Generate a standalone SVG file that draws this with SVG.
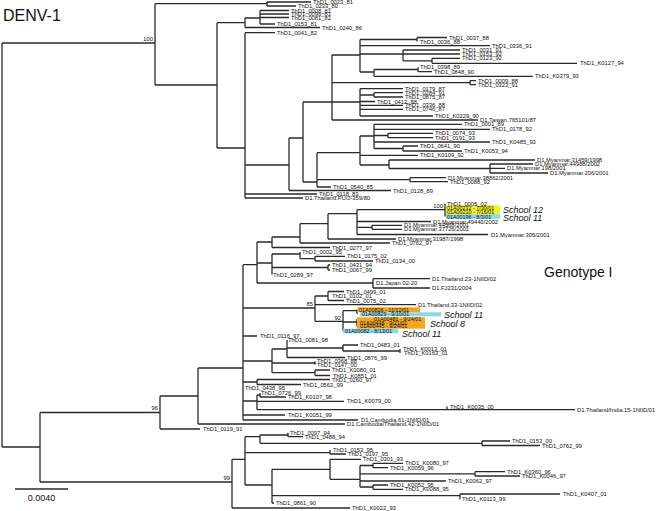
<svg xmlns="http://www.w3.org/2000/svg" width="664" height="511" viewBox="0 0 664 511">
<style>
.e path{fill:none;stroke:#2a2a2a;stroke-width:1.3}
text{font-family:"Liberation Sans",Arial,sans-serif;fill:#111;font-size:5.8px}
.bs{text-anchor:end}
.hl{font-size:5.4px}
.sc{font-style:italic;font-size:9px}
.y{fill:#f2f224}.o{fill:#f5a81e}.c{fill:#8fd6e6}
</style>
<rect width="664" height="511" fill="#fff"/>
<g id="title"><text x="3" y="21" style="font-size:16px">DENV-1</text></g>
<g id="genotype"><text x="544" y="277" style="font-size:14px">Genotype I</text></g>
<g id="scalebar"><path d="M15 489H68" stroke="#2a2a2a" stroke-width="1.3"/><text x="41.5" y="501" text-anchor="middle" style="font-size:9px">0.0040</text></g>
<g id="connectors" class="e">
<path d="M2 43V447M2 43H155M2 447H40"/>
<path d="M155 3.7V85M155 3.7H267M155 85H217"/>
<path d="M267 2V6M267 2H311M267 6H296"/>
<path d="M217 22.7V148M217 22.7H245M217 148H245"/>
<path d="M245 18V27.5M245 18H260M245 27.5H320"/>
<path d="M260 10.5V24M260 10.5H289M260 14H289M260 17.5H289M260 24H275"/>
<path d="M245 32.7V198M245 32.7H275M245 165H289M245 194H317M245 198H303"/>
<path d="M289 138V190.5M289 138H303M289 190.5H391"/>
<path d="M303 102V182M303 102H332M303 182H317"/>
<path d="M332 55V120M332 55H360M332 82.7H470M332 102H360M332 120H478"/>
<path d="M360 39.5V72M360 39.5H417M360 45.7H490M360 54H403M360 72H374"/>
<path d="M417 37.5V41.5M417 37.5H447"/>
<path d="M403 50V60.8M403 50H460M403 54H460M403 60.8H432"/>
<path d="M432 58.3V63.3M432 58.3H460M432 63.3H577"/>
<path d="M374 69.5V76.3M374 69.5H418M374 76.3H533"/>
<path d="M418 67.3V71.7M418 71.7H432"/>
<path d="M470 80.7V84.7M470 80.7H476M470 84.7H476"/>
<path d="M360 88.7V116M360 88.7H403M360 95H374M360 101.5H375M360 105.3H403M360 109.3H403M360 116H433"/>
<path d="M374 92.7V97M374 92.7H403M374 97H403"/>
<path d="M317 152.7V187M317 152.7H360M317 179.7H410M317 187H331"/>
<path d="M410 177.7V181.7M410 177.7H446M410 181.7H448"/>
<path d="M360 136V165M360 136H374M360 155.3H418M360 165H389"/>
<path d="M374 124.3V148.5M374 124.3H462M374 129.3H490M374 135.5H388M374 142H490M374 148.5H403"/>
<path d="M388 133.3V137.7M388 133.3H433M388 137.7H433"/>
<path d="M403 146V151M403 146H418M403 151H462"/>
<path d="M389 160V168.5M389 160H535M389 168.5H490"/>
<path d="M490 164V173M490 164H533M490 168.3H505M490 173H548"/>
<path d="M40 412.5V482M40 412.5H160M40 482H232"/>
<path d="M160 396V429M160 396H198M160 429H200"/>
<path d="M198 368V424M198 368H243M198 424H345"/>
<path d="M243 264.7V420M243 264.7H257M243 308H315M243 336H257M243 361H272M243 382H257M243 401H257M243 415H285M243 420H358"/>
<path d="M257 242V283M257 242H272M257 263H272M257 283H373"/>
<path d="M272 237V247.5M272 237H300M272 247.5H330"/>
<path d="M300 223.7V243M300 223.7H328M300 243H390"/>
<path d="M328 213.7V239M328 213.7H357M328 239H396"/>
<path d="M357 209.7V234.5M357 209.7H445M357 221.5H431M357 227.3H372M357 234.5H488"/>
<path d="M372 225.3V229.3M372 225.3H402M372 229.3H402"/>
<path d="M445 203.7V216.5"/>
<path d="M272 254V274.5M272 254H300M272 267.5H328"/>
<path d="M300 252V258.6M300 258.6H315"/>
<path d="M315 256.3V261M315 256.3H345M315 261H373"/>
<path d="M328 265V270M328 265H330M328 270H330"/>
<path d="M373 278.7V288M373 278.7H430M373 288H430"/>
<path d="M315 296V321.3M315 296H328M315 304.7H416M315 321.3H343"/>
<path d="M328 291.5V300.5M328 291.5H344M328 300.5H344"/>
<path d="M343 310.7V331M343 310.7H357M343 322H357"/>
<path d="M357 309.5V314M357 319V326.5"/>
<path d="M272 349V372.7M272 349H287M272 363H315M272 372.7H315"/>
<path d="M287 340V357.5M287 348H343M287 357.5H345"/>
<path d="M343 345V351M343 345H358M343 351H400"/>
<path d="M400 349V353M315 361.3V364.7"/>
<path d="M315 370V375.5M315 370H330M315 375.5H330"/>
<path d="M257 379.5V384.5M257 379.5H330M257 384.5H301"/>
<path d="M257 395V409.7M257 395H260M257 401.3H344M257 409.7H575"/>
<path d="M260 393V397M260 397H286"/>
<path d="M447 406.5V409.7"/>
<path d="M232 459.3V508M232 459.3H245M232 508H350"/>
<path d="M245 436.7V485M245 436.7H260M245 452.7H330M245 485H272"/>
<path d="M260 435V443.3M260 435H288M260 443.3H482"/>
<path d="M288 432.7V436.7M288 436.7H303"/>
<path d="M482 441V445.5M482 441H510M482 445.5H540"/>
<path d="M330 450V454M330 454H346"/>
<path d="M272 469.3V503M272 469.3H330M272 495.7H460M272 503H274"/>
<path d="M330 459.3V479.3M330 459.3H361M330 479.3H360"/>
<path d="M360 465.5V487M360 465.5H373M360 473.8H475M360 481H446M360 487H373"/>
<path d="M373 463.3V467.7M373 463.3H403M373 467.7H388"/>
<path d="M475 471.7V476M475 471.7H505M475 476H520"/>
<path d="M373 485V489.3M373 485H388M373 489.3H403"/>
<path d="M460 494V499.3M460 494H560"/>
</g>
<g id="bootstrap">
<text class="bs" x="153" y="41">100</text>
<text class="bs" x="443" y="208">100</text>
<text class="bs" x="313" y="306">85</text>
<text class="bs" x="341" y="320">92</text>
<text class="bs" x="158" y="410">96</text>
<text class="bs" x="230" y="480">99</text>
</g>
<g id="highlights">
<rect class="y" x="446" y="205.3" width="54" height="9"/>
<rect class="c" x="446" y="214.3" width="54" height="4.4"/>
<rect class="o" x="357.5" y="307.3" width="62.5" height="5"/>
<rect class="c" x="360" y="312.3" width="81" height="4"/>
<rect class="o" x="357" y="317.3" width="68" height="11.4"/>
<rect class="c" x="343" y="328.7" width="55" height="4.6"/>
</g>
<g id="schools">
<text class="sc" x="503" y="213">School 12</text>
<text class="sc" x="503" y="221">School 11</text>
<text class="sc" x="444" y="318">School 11</text>
<text class="sc" x="430" y="327">School 8</text>
<text class="sc" x="402" y="337">School 11</text>
</g>
<g id="n1"><text x="313" y="4">ThD1_0023_81</text></g>
<g id="n2"><text x="298" y="8">ThD1_0233_80</text></g>
<g id="n3"><text x="291" y="12.5">ThD1_0008_81</text></g>
<g id="n4"><text x="291" y="16">ThD1_0096_81</text></g>
<g id="n5"><text x="291" y="19.5">ThD1_0081_82</text></g>
<g id="n6"><text x="277" y="26">ThD1_0153_81</text></g>
<g id="n7"><text x="322" y="29.5">ThD1_0240_86</text></g>
<g id="n8"><text x="277" y="34.7">ThD1_0041_82</text></g>
<g id="n9"><text x="449" y="39.5">ThD1_0037_88</text></g>
<g id="n10"><text x="420" y="43.5">ThD1_0036_88</text></g>
<g id="n11"><text x="492" y="47.7">ThD1_0336_91</text></g>
<g id="n12"><text x="462" y="52">ThD1_0031_91</text></g>
<g id="n13"><text x="462" y="56">ThD1_0153_92</text></g>
<g id="n14"><text x="462" y="60.3">ThD1_0123_92</text></g>
<g id="n15"><text x="580" y="65.3">ThD1_K0127_94</text></g>
<g id="n16"><text x="420" y="69.3">ThD1_0398_89</text></g>
<g id="n17"><text x="434" y="73.7">ThD1_0848_90</text></g>
<g id="n18"><text x="535" y="78.3">ThD1_K0379_93</text></g>
<g id="n19"><text x="478" y="82.7">ThD1_0009_88</text></g>
<g id="n20"><text x="478" y="86.7">ThD1_0323_91</text></g>
<g id="n21"><text x="405" y="90.7">ThD1_0179_87</text></g>
<g id="n22"><text x="405" y="94.7">ThD1_0284_91</text></g>
<g id="n23"><text x="405" y="99">ThD1_0875_87</text></g>
<g id="n24"><text x="377" y="103.5">ThD1_0412_88</text></g>
<g id="n25"><text x="405" y="107.3">ThD1_0336_88</text></g>
<g id="n26"><text x="405" y="111.3">ThD1_0746_87</text></g>
<g id="n27"><text x="435" y="118">ThD1_K0229_90</text></g>
<g id="n28"><text x="480" y="122">D1.Taiwan.765101/87</text></g>
<g id="n29"><text x="464" y="126.3">ThD1_0001_89</text></g>
<g id="n30"><text x="492" y="131.3">ThD1_0178_92</text></g>
<g id="n31"><text x="435" y="135.3">ThD1_0074_93</text></g>
<g id="n32"><text x="435" y="139.7">ThD1_0191_93</text></g>
<g id="n33"><text x="492" y="144">ThD1_K0485_93</text></g>
<g id="n34"><text x="420" y="148">ThD1_0641_90</text></g>
<g id="n35"><text x="464" y="153">ThD1_K0053_94</text></g>
<g id="n36"><text x="420" y="157.3">ThD1_K0109_92</text></g>
<g id="n37"><text x="537" y="162">D1.Myanmar.31459/1998</text></g>
<g id="n38"><text x="535" y="166">D1.Myanmar.44988/2002</text></g>
<g id="n39"><text x="507" y="170.3">D1.Myanmar.198/2001</text></g>
<g id="n40"><text x="550" y="175">D1.Myanmar.206/2001</text></g>
<g id="n41"><text x="448" y="179.7">D1.Myanmar.38862/2001</text></g>
<g id="n42"><text x="450" y="183.7">ThD1_0088_92</text></g>
<g id="n43"><text x="333" y="189">ThD1_0540_85</text></g>
<g id="n44"><text x="393" y="192.5">ThD1_0128_89</text></g>
<g id="n45"><text x="319" y="196">ThD1_0118_83</text></g>
<g id="n46"><text x="305" y="200">D1.Thailand.PUO-359/80</text></g>
<g id="n47"><text x="447" y="205.7">ThD1_0005_02</text></g>
<g id="n48"><text class="hl" x="447" y="209.5">01A00232 - 7/30/01</text></g>
<g id="n49"><text class="hl" x="447" y="213.8">01A00210 - 7/16/01</text></g>
<g id="n50"><text class="hl" x="447" y="218.5">01A00196 - 8/3/01</text></g>
<g id="n51"><text x="433" y="223.5">D1.Myanmar.49440/2002</text></g>
<g id="n52"><text x="404" y="227.3">D1.Myanmar.44568/2001</text></g>
<g id="n53"><text x="404" y="231.3">D1.Myanmar.37726/2001</text></g>
<g id="n54"><text x="491" y="236.5">D1.Myanmar.305/2001</text></g>
<g id="n55"><text x="398" y="241">D1.Myanmar.31987/1998</text></g>
<g id="n56"><text x="392" y="245">ThD1_0762_97</text></g>
<g id="n57"><text x="332" y="249.5">ThD1_0277_97</text></g>
<g id="n58"><text x="302" y="254">ThD1_0002_95</text></g>
<g id="n59"><text x="347" y="258.3">ThD1_0175_02</text></g>
<g id="n60"><text x="375" y="263">ThD1_0134_00</text></g>
<g id="n61"><text x="332" y="267">ThD1_0431_94</text></g>
<g id="n62"><text x="332" y="272">ThD1_0067_99</text></g>
<g id="n63"><text x="273" y="276.5">ThD1_0289_97</text></g>
<g id="n64"><text x="432" y="280.7">D1.Thailand.23-1NIID/02</text></g>
<g id="n65"><text x="376" y="285">D1.Japan.02-20</text></g>
<g id="n66"><text x="432" y="290">D1.FJ231/2004</text></g>
<g id="n67"><text x="346" y="293.5">ThD1_0499_01</text></g>
<g id="n68"><text x="332" y="298">ThD1_0102_01</text></g>
<g id="n69"><text x="346" y="302.5">ThD1_0075_02</text></g>
<g id="n70"><text x="418" y="306.7">D1.Thailand.33-1NIID/02</text></g>
<g id="n71"><text class="hl" x="359" y="311.5">01A00826 - 11/12/01</text></g>
<g id="n72"><text class="hl" x="362" y="316">01A00829 - 9/10/01</text></g>
<g id="n73"><text class="hl" x="374" y="321">01A00481 - 9/24/01</text></g>
<g id="n74"><text class="hl" x="360" y="324.5">01A00448 - 9/21/01</text></g>
<g id="n75"><text class="hl" x="360" y="328.3">01A00445 - 9/24/01</text></g>
<g id="n76"><text class="hl" x="345" y="333">01A00082 - 8/13/01</text></g>
<g id="n77"><text x="260" y="338">ThD1_0116_97</text></g>
<g id="n78"><text x="288" y="342">ThD1_0081_98</text></g>
<g id="n79"><text x="360" y="347">ThD1_0483_01</text></g>
<g id="n80"><text x="403" y="351">ThD1_K0013_01</text></g>
<g id="n81"><text x="404" y="355">ThD1_K0163_01</text></g>
<g id="n82"><text x="347" y="359.5">ThD1_0876_99</text></g>
<g id="n83"><text x="317" y="363.3">ThD1_0368_88</text></g>
<g id="n84"><text x="317" y="366.7">ThD1_0147_00</text></g>
<g id="n85"><text x="332" y="371.7">ThD1_K0080_01</text></g>
<g id="n86"><text x="333" y="377.5">ThD1_K0851_01</text></g>
<g id="n87"><text x="332" y="381.5">ThD1_0260_97</text></g>
<g id="n88"><text x="303" y="386.5">ThD1_0562_99</text></g>
<g id="n89"><text x="245" y="390">ThD1_0438_95</text></g>
<g id="n90"><text x="261" y="395">ThD1_0726_99</text></g>
<g id="n91"><text x="288" y="399">ThD1_K0107_98</text></g>
<g id="n92"><text x="347" y="403.3">ThD1_K0079_00</text></g>
<g id="n93"><text x="450" y="408.5">ThD1_K0035_00</text></g>
<g id="n94"><text x="577" y="411.7">D1.Thailand/India.15-1NIID/01</text></g>
<g id="n95"><text x="288" y="417">ThD1_K0051_99</text></g>
<g id="n96"><text x="361" y="422">D1.Cambodia.61-1NIID/01</text></g>
<g id="n97"><text x="347" y="426">D1.Cambodia/Thailand.42-1NIID/01</text></g>
<g id="n98"><text x="203" y="431">ThD1_0119_91</text></g>
<g id="n99"><text x="290" y="434.7">ThD1_0097_94</text></g>
<g id="n100"><text x="305" y="438.7">ThD1_0488_94</text></g>
<g id="n101"><text x="512" y="443">ThD1_0153_00</text></g>
<g id="n102"><text x="542" y="447.5">ThD1_0762_99</text></g>
<g id="n103"><text x="333" y="452">ThD1_0153_95</text></g>
<g id="n104"><text x="348" y="456">ThD1_0197_95</text></g>
<g id="n105"><text x="363" y="461.3">ThD1_0301_93</text></g>
<g id="n106"><text x="405" y="465.3">ThD1_K0080_97</text></g>
<g id="n107"><text x="390" y="469.7">ThD1_K0059_96</text></g>
<g id="n108"><text x="507" y="473.7">ThD1_K0360_96</text></g>
<g id="n109"><text x="522" y="478">ThD1_K0046_97</text></g>
<g id="n110"><text x="448" y="483">ThD1_K0062_97</text></g>
<g id="n111"><text x="390" y="487">ThD1_K0052_95</text></g>
<g id="n112"><text x="405" y="491.3">ThD1_K0088_95</text></g>
<g id="n113"><text x="563" y="496">ThD1_K0407_01</text></g>
<g id="n114"><text x="462" y="501.3">ThD1_K0113_99</text></g>
<g id="n115"><text x="276" y="505">ThD1_0861_90</text></g>
<g id="n116"><text x="352" y="510">ThD1_K0022_93</text></g>
</svg>
